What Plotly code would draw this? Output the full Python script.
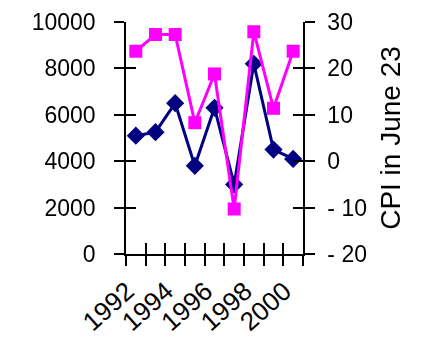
import plotly.graph_objects as go

years = [1992, 1993, 1994, 1995, 1996, 1997, 1998, 1999, 2000]
blue_vals = [5100, 5250, 6500, 3800, 6300, 3000, 8200, 4500, 4100]
cpi_vals = [23.7, 27.3, 27.3, 8.3, 18.8, -10.3, 27.9, 11.4, 23.7]

year_labels = [1992, 1994, 1996, 1998, 2000]
left_ticks = [0, 2000, 4000, 6000, 8000, 10000]
right_ticks = [30, 20, 10, 0, -10, -20]
right_text = ["30", "20", "10", "0", "- 10", "- 20"]

FONT = "Liberation Sans, Arial, sans-serif"
NAVY = "#000080"
MAGENTA = "#FF00FF"

fig = go.Figure()
fig.add_trace(go.Scatter(
    x=years, y=blue_vals, mode="lines+markers",
    line=dict(color=NAVY, width=3),
    marker=dict(symbol="diamond", size=14, color=NAVY),
    yaxis="y", showlegend=False,
))
fig.add_trace(go.Scatter(
    x=years, y=cpi_vals, mode="lines+markers",
    line=dict(color=MAGENTA, width=3),
    marker=dict(symbol="square", size=13, color=MAGENTA),
    yaxis="y2", showlegend=False,
))
# invisible traces so the overlay axes (crossing tick marks) get drawn
for xa, ya, vals in [("x2", "y3", blue_vals), ("x3", "y4", cpi_vals)]:
    fig.add_trace(go.Scatter(x=years, y=vals, mode="markers", opacity=0,
                             xaxis=xa, yaxis=ya, hoverinfo="skip", showlegend=False))

half_years = [y - 0.5 for y in years] + [years[-1] + 0.5]
xrange = [years[0] - 0.5, years[-1] + 0.5]

common_y = dict(showgrid=False, zeroline=False, linecolor="black", linewidth=1.5,
                tickcolor="black", tickwidth=1.5, ticklen=10, automargin=False,
                ticklabeloverflow="allow")
tick_x = dict(range=xrange, overlaying="x", side="bottom", tickvals=half_years,
              ticklen=11, tickcolor="black", tickwidth=1.5, showticklabels=False,
              showgrid=False, zeroline=False, showline=False, automargin=False)

# page body has an 8px margin, so the figure is a bit smaller than the window
fig.update_layout(
    width=416, height=332,
    margin=dict(l=118, r=121, t=14, b=86),
    plot_bgcolor="white", paper_bgcolor="white",
    font=dict(family=FONT, color="black"),
    xaxis=dict(
        range=xrange,
        tickvals=[y - 0.45 for y in year_labels], ticktext=[str(y) for y in year_labels],
        tickangle=-42, ticks="", ticklen=0, ticklabelstandoff=10,
        tickfont=dict(size=26), ticklabeloverflow="allow",
        showgrid=False, zeroline=False, automargin=False,
        showline=True, linecolor="black", linewidth=1.5,
    ),
    xaxis2=dict(ticks="inside", **tick_x),
    xaxis3=dict(ticks="outside", **tick_x),
    yaxis=dict(range=[0, 10000], tickvals=left_ticks,
               ticktext=[str(v) for v in left_ticks], ticks="outside",
               showline=True, tickfont=dict(size=23), ticklabelstandoff=14,
               **common_y),
    yaxis3=dict(range=[0, 10000], tickvals=left_ticks, ticks="inside",
                overlaying="y", side="left", showline=False,
                showticklabels=False, **common_y),
    yaxis2=dict(range=[-20, 30], tickvals=right_ticks, ticktext=right_text,
                ticks="outside", overlaying="y", side="right", showline=True,
                tickfont=dict(size=23), ticklabelstandoff=8,
                title=dict(text="CPI in June 23", font=dict(size=28), standoff=14),
                **common_y),
    yaxis4=dict(range=[-20, 30], tickvals=right_ticks, ticks="inside",
                overlaying="y", side="right", showline=False,
                showticklabels=False, **common_y),
)

fig.write_html("out.html")
